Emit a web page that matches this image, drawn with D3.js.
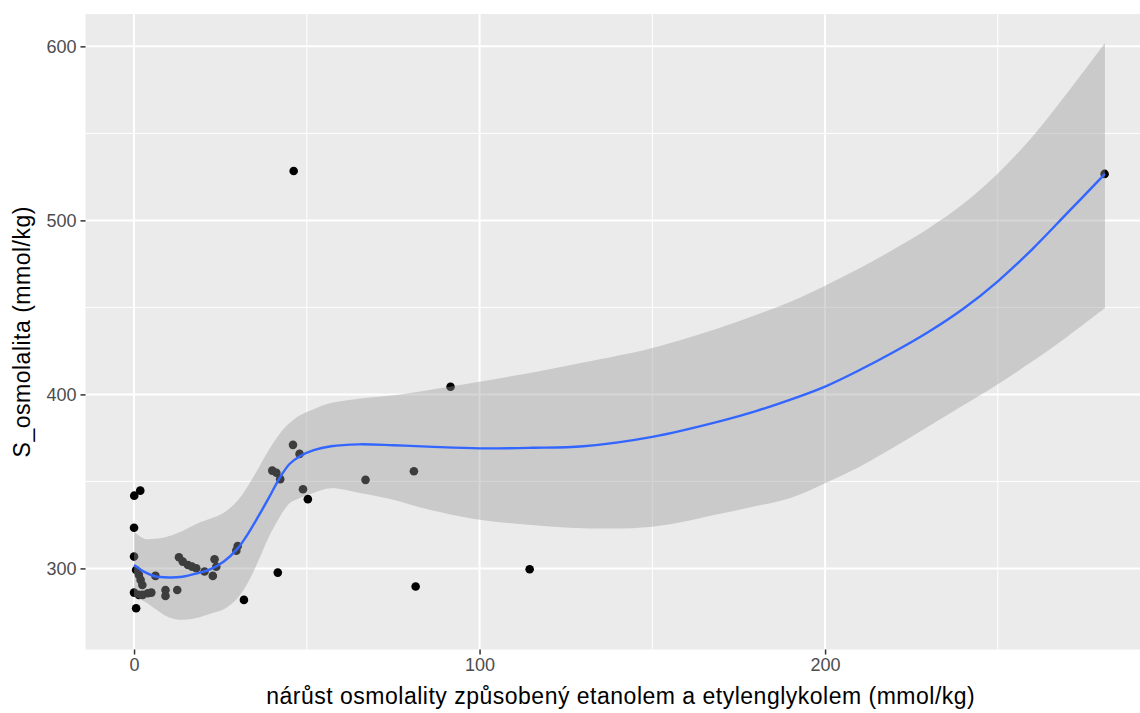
<!DOCTYPE html>
<html>
<head>
<meta charset="utf-8">
<script src="https://cdn.jsdelivr.net/npm/d3@7"></script>
<style>
  body { margin: 0; background: #fff; }
  text { font-family: "Liberation Sans", Arial, sans-serif; }
</style>
</head>
<body>
<script>
// points
var ptX = [0.05, 1.8, 0, 0, 0.6, 1.4, 1.9, 2.4, 0, 1.4, 2.5, 4, 5, 0.6, 6.2, 9.1, 9.1, 12.5,
    13, 14.1, 15.6, 16.8, 18, 20.4, 22.8, 23.3, 23.8, 29.6, 30, 31.8, 40, 41.2, 42.3, 41.6,
    46, 47.9, 48.9, 50.3, 46.2, 67, 81, 81.5, 91.6, 114.5, 280.9];
var ptY = [341.8, 344.7, 323.4, 306.8, 299.1, 296.3, 293.4, 290.5, 286.1, 284.8, 284.8, 285.7, 286.1, 277.1, 295.7, 287.6, 284.2, 287.6,
    306.4, 303.9, 302, 301, 300.1, 298.2, 295.7, 305.3, 301, 310.2, 312.9, 281.9, 356.2, 355, 351.3, 297.6,
    371, 365.8, 345.5, 339.8, 528.4, 350.9, 355.8, 289.6, 404.4, 299.5, 526.7];

// loess fit and its band
var fitX = [0, 3, 6, 10, 14, 18, 22, 26, 30, 33, 36, 39, 42, 45, 48, 52, 57, 65, 75, 85, 100, 115, 130,
    150, 170, 180, 190, 200, 210, 220, 230, 240, 250, 260, 270, 281];
var fitY = [302, 298, 295.5, 294.8, 295.2, 297, 299.5, 304, 311.5, 320, 330, 340.5, 351.5, 360, 364.5, 368, 370.2, 371.3, 370.8, 370, 369, 369.3, 370.2,
    375.6, 384.8, 390.4, 397, 404.5, 414, 424.5, 436, 449.2, 465, 483.5, 504, 526.7];
var fitHi = [321, 317, 317, 318.5, 321.5, 325.5, 328.5, 332, 339, 347.5, 357.5, 368, 377, 383.5, 388, 391.5, 395, 397.5, 399.5, 402.4, 407.3, 412.5, 418.3,
    426.7, 438.6, 445.6, 453.2, 462.5, 472.5, 483.5, 495.5, 509.5, 527, 548, 573, 602];
var fitLo = [284, 281, 277, 272, 270.5, 271.5, 274, 276.5, 283, 292, 304.5, 318, 329, 337.5, 340.5, 343.5, 346, 343.5, 339.5, 334, 328, 325, 323.1,
    323.9, 331.5, 335.8, 340.5, 349, 358.4, 369.7, 381.7, 393.7, 405.8, 419, 433, 449.6];

var xMajor = [0, 100, 200], xMinor = [50, 150, 250];
var yMajor = [300, 400, 500, 600], yMinor = [350, 450, 550];

const w = 1140, h = 713;
const svg = d3.select("body").append("svg")
    .attr("width", w).attr("height", h);

const pLeft = 85.5, pRight = 1153.5, pTop = 14, pBottom = 649.5;
var xScale = d3.scaleLinear().domain([-14.05, 295.05]).range([pLeft, pRight]);
var yScale = d3.scaleLinear().domain([253.4, 618.6]).range([pBottom, pTop]);

svg.append("rect")
    .attr("x", pLeft).attr("y", pTop)
    .attr("width", pRight - pLeft).attr("height", pBottom - pTop)
    .attr("fill", "#EBEBEB");

// grid
svg.selectAll(".gxm").data(xMinor).enter().append("line")
    .attr("x1", d => xScale(d)).attr("x2", d => xScale(d))
    .attr("y1", pTop).attr("y2", pBottom)
    .attr("stroke", "#fff").attr("stroke-width", 1);
svg.selectAll(".gym").data(yMinor).enter().append("line")
    .attr("y1", d => yScale(d)).attr("y2", d => yScale(d))
    .attr("x1", pLeft).attr("x2", pRight)
    .attr("stroke", "#fff").attr("stroke-width", 1);
svg.selectAll(".gx").data(xMajor).enter().append("line")
    .attr("x1", d => xScale(d)).attr("x2", d => xScale(d))
    .attr("y1", pTop).attr("y2", pBottom)
    .attr("stroke", "#fff").attr("stroke-width", 2);
svg.selectAll(".gy").data(yMajor).enter().append("line")
    .attr("y1", d => yScale(d)).attr("y2", d => yScale(d))
    .attr("x1", pLeft).attr("x2", pRight)
    .attr("stroke", "#fff").attr("stroke-width", 2);

// points (under the band, like ggplot)
svg.selectAll("circle").data(ptX).enter().append("circle")
    .attr("cx", (d) => xScale(d))
    .attr("cy", (d, i) => yScale(ptY[i]))
    .attr("r", 4.3)
    .attr("fill", "#000");

var band = d3.area()
    .x((d) => xScale(d))
    .y0((d, i) => yScale(fitLo[i]))
    .y1((d, i) => yScale(fitHi[i]))
    .curve(d3.curveCatmullRom);
svg.append("path").datum(fitX)
    .attr("d", band)
    .attr("fill", "#999999").attr("fill-opacity", 0.4);

var fitLine = d3.line()
    .x((d) => xScale(d))
    .y((d, i) => yScale(fitY[i]))
    .curve(d3.curveCatmullRom);
svg.append("path").datum(fitX)
    .attr("d", fitLine)
    .attr("fill", "none").attr("stroke", "#3366FF").attr("stroke-width", 2.4);

// axes
var xAxis = d3.axisBottom(xScale).tickValues(xMajor).tickSize(5).tickPadding(4);
var yAxis = d3.axisLeft(yScale).tickValues(yMajor).tickSize(5).tickPadding(4);

var gx = svg.append("g")
    .attr("transform", "translate(0," + pBottom + ")")
    .call(xAxis);
var gy = svg.append("g")
    .attr("transform", "translate(" + pLeft + ",0)")
    .call(yAxis);
[gx, gy].forEach(function (g) {
    g.select(".domain").remove();
    g.selectAll("line").attr("stroke", "#333333").attr("stroke-width", 1.5);
    g.selectAll("text").attr("fill", "#4D4D4D").style("font-size", "18px")
        .style("font-family", '"Liberation Sans", Arial, sans-serif');
});

svg.append("text")
    .attr("x", (pLeft + 1140) / 2 + 8).attr("y", 704)
    .attr("text-anchor", "middle")
    .style("font-size", "23px")
    .style("letter-spacing", "0.5px")
    .attr("fill", "#000")
    .text("nárůst osmolality způsobený etanolem a etylenglykolem (mmol/kg)");

svg.append("text")
    .attr("transform", "translate(30," + ((pTop + pBottom) / 2) + ") rotate(-90)")
    .attr("text-anchor", "middle")
    .style("font-size", "23px")
    .style("letter-spacing", "0.5px")
    .attr("fill", "#000")
    .text("S_osmolalita (mmol/kg)");
</script>
</body>
</html>
